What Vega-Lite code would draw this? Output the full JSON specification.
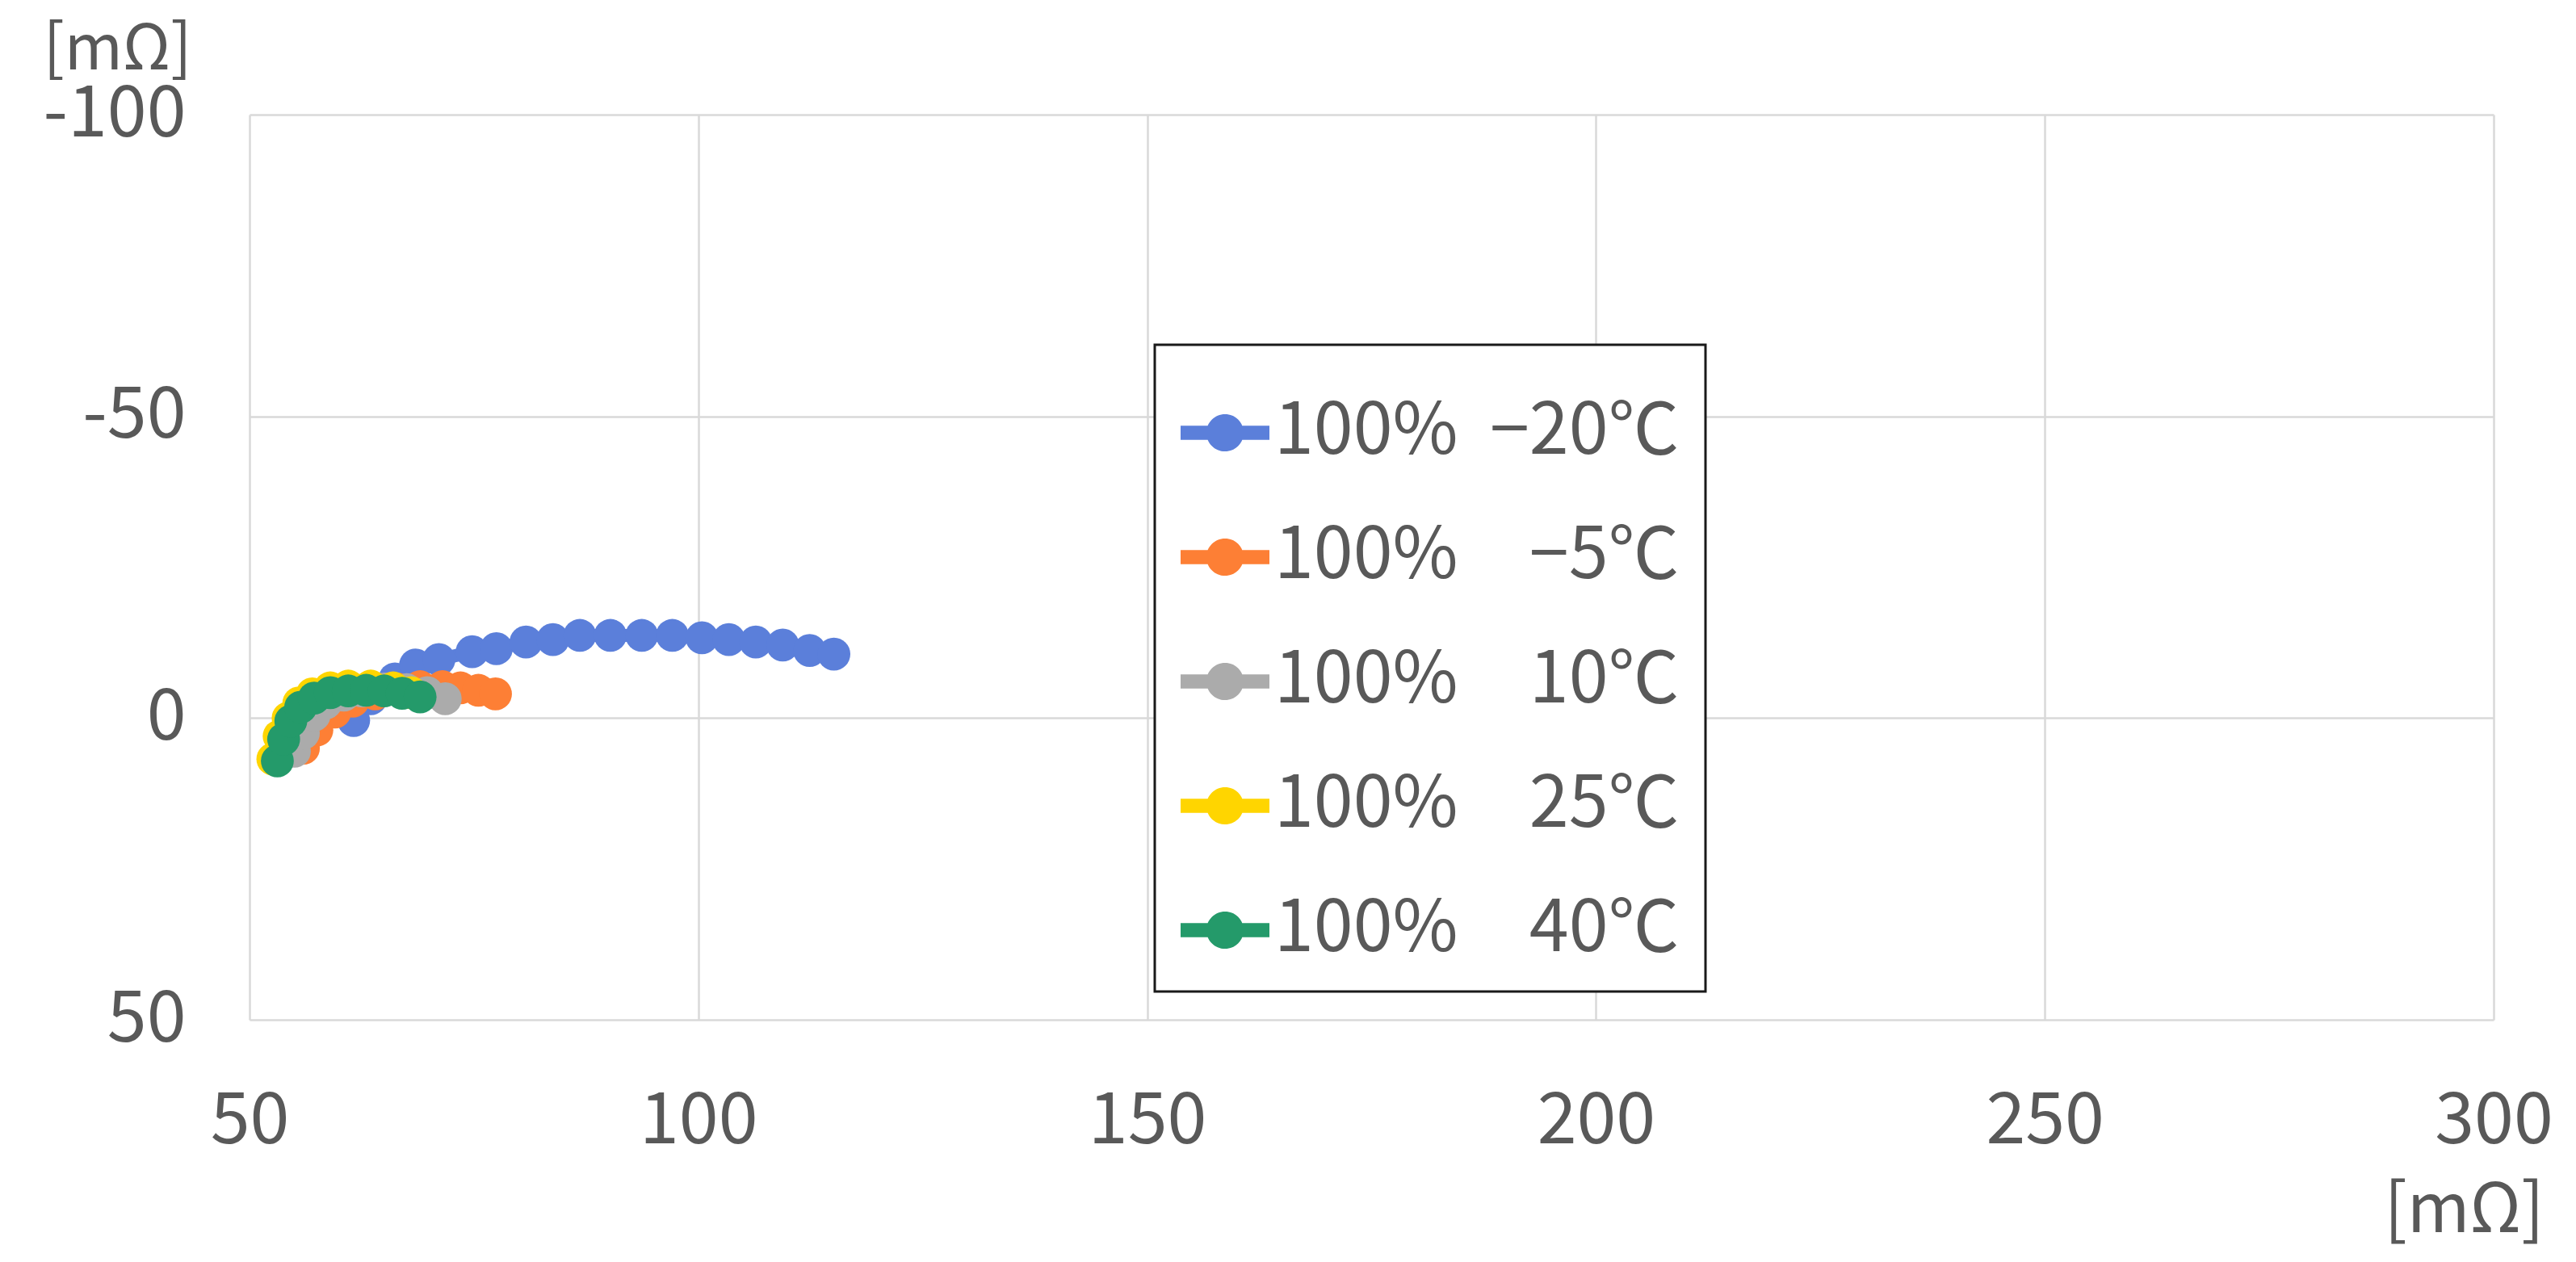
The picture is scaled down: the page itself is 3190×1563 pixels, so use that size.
{
  "$schema": "https://vega.github.io/schema/vega-lite/v6.json",
  "width": 2779,
  "height": 1121,
  "autosize": {"type": "none"},
  "padding": {"left": 309, "top": 142, "right": 102, "bottom": 300},
  "background": "white",
  "data": {
    "values": [
      {"s": "A", "i": 1, "x": 61.6, "y": 0.4},
      {"s": "A", "i": 2, "x": 63.5, "y": -3.2},
      {"s": "A", "i": 3, "x": 66.2, "y": -6.5},
      {"s": "A", "i": 4, "x": 68.5, "y": -8.8},
      {"s": "A", "i": 5, "x": 71.1, "y": -9.7},
      {"s": "A", "i": 6, "x": 74.8, "y": -11.0},
      {"s": "A", "i": 7, "x": 77.5, "y": -11.5},
      {"s": "A", "i": 8, "x": 80.8, "y": -12.6},
      {"s": "A", "i": 9, "x": 83.8, "y": -13.0},
      {"s": "A", "i": 10, "x": 86.8, "y": -13.7},
      {"s": "A", "i": 11, "x": 90.2, "y": -13.7},
      {"s": "A", "i": 12, "x": 93.7, "y": -13.7},
      {"s": "A", "i": 13, "x": 97.1, "y": -13.7},
      {"s": "A", "i": 14, "x": 100.4, "y": -13.3},
      {"s": "A", "i": 15, "x": 103.4, "y": -13.0},
      {"s": "A", "i": 16, "x": 106.4, "y": -12.6},
      {"s": "A", "i": 17, "x": 109.4, "y": -12.1},
      {"s": "A", "i": 18, "x": 112.4, "y": -11.2},
      {"s": "A", "i": 19, "x": 115.1, "y": -10.6},
      {"s": "B", "i": 1, "x": 56.0, "y": 5.0},
      {"s": "B", "i": 2, "x": 57.5, "y": 2.0},
      {"s": "B", "i": 3, "x": 59.5, "y": -1.0},
      {"s": "B", "i": 4, "x": 61.5, "y": -2.8},
      {"s": "B", "i": 5, "x": 64.0, "y": -4.0},
      {"s": "B", "i": 6, "x": 66.5, "y": -4.8},
      {"s": "B", "i": 7, "x": 69.0, "y": -5.2},
      {"s": "B", "i": 8, "x": 71.5, "y": -5.2},
      {"s": "B", "i": 9, "x": 73.5, "y": -5.0},
      {"s": "B", "i": 10, "x": 75.5, "y": -4.6},
      {"s": "B", "i": 11, "x": 77.4, "y": -4.0},
      {"s": "C", "i": 1, "x": 55.0, "y": 5.5},
      {"s": "C", "i": 2, "x": 56.0, "y": 2.5},
      {"s": "C", "i": 3, "x": 57.2, "y": -0.5},
      {"s": "C", "i": 4, "x": 58.5, "y": -2.5},
      {"s": "C", "i": 5, "x": 60.5, "y": -3.8},
      {"s": "C", "i": 6, "x": 62.5, "y": -4.5},
      {"s": "C", "i": 7, "x": 65.0, "y": -4.8},
      {"s": "C", "i": 8, "x": 67.5, "y": -4.7},
      {"s": "C", "i": 9, "x": 69.8, "y": -4.2},
      {"s": "C", "i": 10, "x": 71.8, "y": -3.2},
      {"s": "D", "i": 1, "x": 52.6, "y": 6.8},
      {"s": "D", "i": 2, "x": 53.3, "y": 3.0},
      {"s": "D", "i": 3, "x": 54.3, "y": 0.0},
      {"s": "D", "i": 4, "x": 55.5, "y": -2.5},
      {"s": "D", "i": 5, "x": 57.0, "y": -4.0},
      {"s": "D", "i": 6, "x": 59.0, "y": -5.0},
      {"s": "D", "i": 7, "x": 61.0, "y": -5.3},
      {"s": "D", "i": 8, "x": 63.5, "y": -5.3},
      {"s": "D", "i": 9, "x": 66.0, "y": -5.0},
      {"s": "D", "i": 10, "x": 68.0, "y": -4.2},
      {"s": "E", "i": 1, "x": 53.1, "y": 7.1},
      {"s": "E", "i": 2, "x": 53.8, "y": 3.5},
      {"s": "E", "i": 3, "x": 54.6, "y": 0.5},
      {"s": "E", "i": 4, "x": 55.7, "y": -1.8},
      {"s": "E", "i": 5, "x": 57.2, "y": -3.3},
      {"s": "E", "i": 6, "x": 59.0, "y": -4.2},
      {"s": "E", "i": 7, "x": 61.0, "y": -4.5},
      {"s": "E", "i": 8, "x": 63.0, "y": -4.6},
      {"s": "E", "i": 9, "x": 65.0, "y": -4.5},
      {"s": "E", "i": 10, "x": 67.0, "y": -4.1},
      {"s": "E", "i": 11, "x": 69.0, "y": -3.5}
    ]
  },
  "transform": [
    {"lookup": "s", "from": {"data": {"values": [
      {"s": "A", "name": "100%\u00a0\u00a0−20℃"},
      {"s": "B", "name": "100%\u00a0\u00a0\u2007−5℃"},
      {"s": "C", "name": "100%\u00a0\u00a0\u200710℃"},
      {"s": "D", "name": "100%\u00a0\u00a0\u200725℃"},
      {"s": "E", "name": "100%\u00a0\u00a0\u200740℃"}
    ]}, "key": "s", "fields": ["name"]}}
  ],
  "encoding": {
    "x": {
      "field": "x", "type": "quantitative",
      "scale": {"domain": [50, 300], "nice": false, "zero": false},
      "axis": {
        "values": [50, 100, 150, 200, 250, 300],
        "title": "[mΩ]", "titleX": 2742, "titleY": 237, "titleAlign": "center", "titleBaseline": "middle", "titleAnchor": null, "titleFontSize": 84,
        "labelPadding": 126, "labelBaseline": "middle", "labelFlush": false
      }
    },
    "y": {
      "field": "y", "type": "quantitative",
      "scale": {"domain": [-100, 50], "nice": false, "zero": false, "reverse": true},
      "axis": {
        "values": [-100, -50, 0, 50],
        "labelExpr": "toString(datum.value)",
        "title": "[mΩ]", "titleX": -164, "titleY": -80, "titleAngle": 0, "titleAlign": "center", "titleBaseline": "middle", "titleAnchor": null, "titleFontSize": 78,
        "labelPadding": 79, "labelBaseline": "middle", "labelFlush": false
      }
    },
    "color": {
      "field": "name", "type": "nominal",
      "scale": {
        "domain": ["100%\u00a0\u00a0−20℃", "100%\u00a0\u00a0\u2007−5℃", "100%\u00a0\u00a0\u200710℃", "100%\u00a0\u00a0\u200725℃", "100%\u00a0\u00a0\u200740℃"],
        "range": ["#5B7FDA", "#FD7F35", "#ABABAB", "#FFD500", "#249A6A"]
      },
      "legend": {
        "orient": "none", "legendX": 1121, "legendY": 285,
        "title": " ", "titleFontSize": 2, "titlePadding": 20,
        "symbolType": "M-1,-0.16L1,-0.16L1,0.16L-1,0.16Z M-0.42,0A0.42,0.42 0 1,1 0.42,0A0.42,0.42 0 1,1 -0.42,0Z",
        "symbolSize": 12100, "symbolStrokeWidth": 0, "symbolOpacity": 1,
        "labelFontSize": 88, "labelColor": "#595959", "labelOffset": 6, "labelFont": "Noto Sans CJK KR", "labelLimit": 0,
        "rowPadding": 55, "padding": 32,
        "strokeColor": "#1a1a1a", "fillColor": "white"
      }
    }
  },
  "layer": [
    {
      "mark": {"type": "line", "strokeWidth": 16, "strokeCap": "round", "strokeJoin": "round"},
      "encoding": {
        "order": {"field": "i", "type": "quantitative"}
      }
    },
    {
      "mark": {"type": "point", "filled": true, "opacity": 1, "size": 1660, "shape": "circle"}
    }
  ],
  "config": {
    "font": "Noto Sans CJK KR",
    "view": {"stroke": null},
    "axis": {
      "domain": false, "ticks": false, "tickSize": 0,
      "grid": true, "gridColor": "#D9D9D9", "gridWidth": 2.5,
      "labelFontSize": 88, "labelColor": "#595959", "labelFont": "Noto Sans CJK KR",
      "titleFontSize": 88, "titleColor": "#595959", "titleFontWeight": "normal", "titleFont": "Noto Sans CJK KR"
    },
    "legend": {"strokeWidth": 3}
  }
}
